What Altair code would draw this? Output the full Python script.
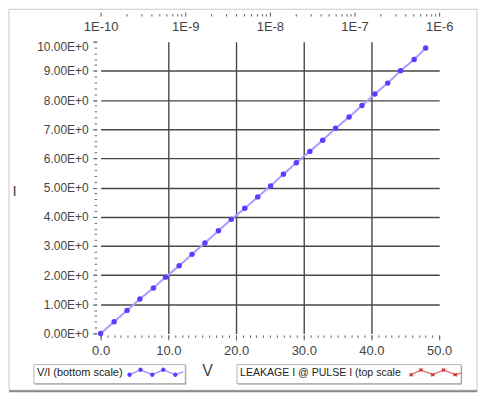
import altair as alt
import pandas as pd

# ---- data ----
V = [0.0, 2.0, 3.9, 5.8, 7.8, 9.6, 11.6, 13.5, 15.4, 17.4, 19.3, 21.3, 23.2,
     25.1, 27.0, 28.9, 30.9, 32.8, 34.7, 36.7, 38.6, 40.5, 42.4, 44.3, 46.3, 48.0]
I = [0.0, 0.40, 0.79, 1.18, 1.56, 1.93, 2.32, 2.71, 3.10, 3.52, 3.91, 4.29, 4.68,
     5.05, 5.46, 5.85, 6.24, 6.62, 7.03, 7.42, 7.81, 8.21, 8.58, 9.00, 9.39, 9.78]

x_major = [0, 10, 20, 30, 40, 50]
x_grid = [10, 20, 30, 40]
x_minor = list(range(0, 51))
y_major = [0, 1, 2, 3, 4, 5, 6, 7, 8, 9, 10]
y_grid = [1, 2, 3, 4, 5, 6, 7, 8, 9]
y_minor = [round(0.2 * k, 1) for k in range(51)]
top_decades = [1e-10, 1e-9, 1e-8, 1e-7, 1e-6]
top_minor = [m * 10.0 ** e for e in range(-10, -6) for m in range(2, 10)]
legend_labels = ["V/I (bottom scale)", "LEAKAGE I @ PULSE I (top scale"]

df = pd.DataFrame({"V": V, "I": I})
df_top = pd.DataFrame({"t": top_decades})
df_topm = pd.DataFrame({"t": top_minor})
one = pd.DataFrame({"k": [0]})

FONT = "Liberation Sans"
LBL = "#444444"

xs = alt.Scale(domain=[0, 50], nice=False, zero=False)
ys = alt.Scale(domain=[0, 10], nice=False, zero=False)
ls = alt.Scale(type="log", domain=[1e-10, 1e-6], nice=False)

grid = alt.Chart(df).mark_point(opacity=0).encode(
    x=alt.X("V:Q", scale=xs, axis=alt.Axis(orient="bottom", values=x_grid, grid=True,
            gridColor="#474747", gridWidth=1.4, labels=False, ticks=False, domain=False, title="")),
    y=alt.Y("I:Q", scale=ys, axis=alt.Axis(orient="left", values=y_grid, grid=True,
            gridColor="#474747", gridWidth=1.4, labels=False, ticks=False, domain=False, title="")),
)

line = alt.Chart(df).mark_line(color="#a89cff", strokeWidth=2).encode(
    x=alt.X("V:Q", scale=xs, axis=alt.Axis(orient="bottom", values=x_major, format=".1f",
            grid=False, domain=False, ticks=True, tickSize=5, tickColor="#555", offset=1.5,
            labelFont=FONT, labelFontSize=13, labelColor=LBL, labelPadding=5,
            labelBaseline="top", labelFlush=False,
            title="V", titleFont=FONT, titleFontSize=16, titleFontWeight="normal",
            titleColor=LBL, titleX=107, titleY=36, titleBaseline="middle", titleAlign="center")),
    y=alt.Y("I:Q", scale=ys, axis=alt.Axis(orient="left", values=y_major,
            labelExpr="format(datum.value, '.2f') + 'E+0'",
            grid=False, domain=False, ticks=True, tickSize=4, tickColor="#555", offset=4,
            labelFont=FONT, labelFontSize=12, labelColor=LBL, labelPadding=4.5, labelFlush=False,
            labelBaseline={"condition": {"test": "datum.value == 10", "value": "top"}, "value": "middle"},
            title="I", titleFont=FONT, titleFontSize=15, titleFontWeight="normal",
            titleColor=LBL, titleAngle=0, titleX=-83, titleY=149, titleBaseline="middle",
            titleAlign="center")),
)

points = alt.Chart(df).mark_circle(size=30, color="#5a3dff", opacity=1).encode(
    x=alt.X("V:Q", scale=xs, axis=alt.Axis(orient="bottom", values=x_minor, labels=False,
            grid=False, domain=False, tickSize=2.5, tickColor="#666", offset=1.5, title="")),
    y=alt.Y("I:Q", scale=ys, axis=alt.Axis(orient="left", values=y_minor, labels=False,
            grid=False, domain=False, tickSize=2.5, tickColor="#666", offset=4, title="")),
)

top = alt.Chart(df_top).mark_point(opacity=0).encode(
    x=alt.X("t:Q", scale=ls, axis=alt.Axis(orient="top", values=top_decades,
            labelExpr="'1E' + round(log(datum.value) / LN10)",
            grid=False, domain=False, tickSize=4, tickColor="#555", offset=25.7,
            labelFont=FONT, labelFontSize=13, labelColor=LBL, labelBaseline="top",
            labelFlush=False, labelPadding=-8, title="")),
)
topm = alt.Chart(df_topm).mark_point(opacity=0).encode(
    x=alt.X("t:Q", scale=ls, axis=alt.Axis(orient="top", values=top_minor, labels=False,
            grid=False, domain=False, tickSize=2.5, tickColor="#666", offset=25.7, title="")),
)

# ---- decorations: outer frame and legend boxes ----
frame = alt.Chart(one).mark_rect(fillOpacity=0, stroke="#c8c8c8", strokeWidth=1).encode(
    x=alt.value(-92), x2=alt.value(378), y=alt.value(-32.5), y2=alt.value(350))
frame_sh = alt.Chart(one).mark_rule(color="#8a8a8a", strokeWidth=2).encode(
    x=alt.value(-92), x2=alt.value(378.5), y=alt.value(351))

def box(x1, x2):
    sh = alt.Chart(one).mark_rect(fill="#8c8c8c").encode(
        x=alt.value(x1 + 1), x2=alt.value(x2 + 1), y=alt.value(325.3), y2=alt.value(344.3))
    bx = alt.Chart(one).mark_rect(fill="white", stroke="#b4b4b4", strokeWidth=1).encode(
        x=alt.value(x1), x2=alt.value(x2), y=alt.value(324.3), y2=alt.value(343.3))
    return [sh, bx]

def txt(x, s, fs):
    return alt.Chart(one).mark_text(align="left", baseline="middle", font=FONT,
                                    fontSize=fs, color="#222").encode(
        x=alt.value(x), y=alt.value(333), text=alt.value(s))

p1 = [(-0.96, 0.09), (-0.56, -0.09), (-0.13, 0.09), (0.27, -0.09), (0.71, 0.09)]
line1 = "M" + "L".join(f"{a},{b}" for a, b in p1) + "L1,-0.02"
r = 0.08
dots1 = "".join(f"M{a - r},{b}a{r},{r} 0 1,0 {2 * r},0a{r},{r} 0 1,0 {-2 * r},0" for a, b in p1)

p2 = [(-0.93, 0.09), (-0.56, -0.09), (-0.11, 0.09), (0.30, -0.09), (0.74, 0.09)]
line2 = "M" + "L".join(f"{a},{b}" for a, b in p2) + "L1,0.02"
d = 0.06
xs2 = "".join(f"M{a - d},{b - d}L{a + d},{b + d}M{a - d},{b + d}L{a + d},{b - d}" for a, b in p2)

s1l = alt.Chart(one).mark_point(shape=line1, size=3025, filled=False, color="#a89cff",
                                strokeWidth=1.6, opacity=1).encode(x=alt.value(55.5), y=alt.value(332))
s1d = alt.Chart(one).mark_point(shape=dots1, size=3025, filled=True, color="#5a3dff",
                                opacity=1).encode(x=alt.value(55.5), y=alt.value(332))
s2l = alt.Chart(one).mark_point(shape=line2, size=2809, filled=False, color="#e07a7a",
                                strokeWidth=1.4, opacity=1).encode(x=alt.value(336.5), y=alt.value(332))
s2x = alt.Chart(one).mark_point(shape=xs2, size=2809, filled=False, color="#c82828",
                                strokeWidth=1.2, opacity=1).encode(x=alt.value(336.5), y=alt.value(332))

layers = [frame, frame_sh, grid, line, points, top, topm] + box(-67, 85) + box(137, 362) + [
    txt(-64, legend_labels[0], 11), txt(140, legend_labels[1], 10.6), s1l, s1d, s2l, s2x]

chart = alt.layer(*layers).resolve_scale(x="independent").resolve_axis(
    x="independent", y="independent").properties(
    width=340, height=293, padding=0).configure_view(strokeWidth=0)

chart.save("out.html", embed_options={"renderer": "svg", "actions": False})
